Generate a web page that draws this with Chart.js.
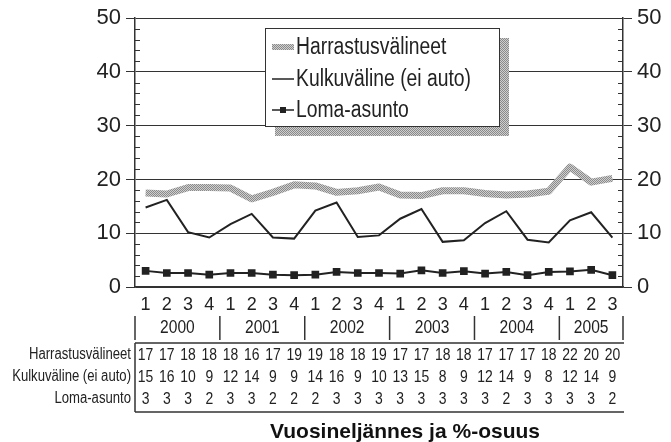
<!DOCTYPE html>
<html><head><meta charset="utf-8">
<script src="https://cdn.jsdelivr.net/npm/chart.js@4.4.0/dist/chart.umd.min.js"></script>
<style>html,body{margin:0;padding:0;background:#fff;}#wrap{width:671px;height:442px;}</style>
</head><body><div id="wrap"><canvas id="c" width="671" height="442"></canvas></div>
<script>
const quarters = ['1','2','3','4','1','2','3','4','1','2','3','4','1','2','3','4','1','2','3','4','1','2','3'];
const years = ['2000','2001','2002','2003','2004','2005'];
const yearSpans = [4,4,4,4,4,3];
const seriesNames = ['Harrastusvälineet','Kulkuväline (ei auto)','Loma-asunto'];
const harrastus = [17.5,17.3,18.5,18.5,18.4,16.4,17.6,19.0,18.8,17.6,17.9,18.6,17.1,17.0,17.9,17.9,17.4,17.1,17.3,17.8,22.3,19.5,20.2];
const kulku = [14.8,16.2,10.2,9.2,11.7,13.6,9.2,9.0,14.2,15.7,9.3,9.6,12.7,14.5,8.4,8.7,11.9,14.1,8.8,8.3,12.4,13.9,9.2];
const loma = [3.0,2.6,2.6,2.3,2.6,2.6,2.3,2.2,2.3,2.8,2.6,2.6,2.5,3.1,2.6,2.95,2.5,2.8,2.2,2.8,2.9,3.2,2.2];
const tableHarrastus = [17,17,18,18,18,16,17,19,19,18,18,19,17,17,18,18,17,17,17,18,22,20,20];
const tableKulku = [15,16,10,9,12,14,9,9,14,16,9,10,13,15,8,9,12,14,9,8,12,14,9];
const tableLoma = [3,3,3,2,3,3,2,2,2,3,3,3,3,3,3,3,3,2,3,3,3,3,2];
const yMin = 0, yMax = 50, yMajor = 10, yMinor = 2;
const xTitle = 'Vuosineljännes ja %-osuus';

const SANS = '"Liberation Sans", Arial, sans-serif';
const INK = '#222';

function hatch(){
  const c=document.createElement('canvas');c.width=2;c.height=2;
  const g=c.getContext('2d');
  g.fillStyle='#cfcfcf';g.fillRect(0,0,2,2);
  g.fillStyle='#8a8a8a';g.fillRect(0,0,1,1);g.fillRect(1,1,1,1);
  return g.createPattern(c,'repeat');
}
const HATCH = hatch();

const majorColor = ctx => (ctx.tick && ctx.tick.value % yMajor === 0) ? '#333' : 'rgba(0,0,0,0)';

// condensed text: draw with horizontal squeeze
function ntext(ctx,str,x,y,size,align,sx){
  sx=sx||0.82;
  ctx.save();
  ctx.font=size+'px '+SANS;
  ctx.textAlign=align;ctx.textBaseline='middle';
  ctx.translate(x,y);ctx.scale(sx,1);
  ctx.fillText(str,0,0);
  ctx.restore();
}

const extras = {
  id:'extras',
  afterDraw(chart){
    const ctx=chart.ctx, x=chart.scales.x, y=chart.scales.y, ca=chart.chartArea;
    const half=(x.getPixelForValue(1)-x.getPixelForValue(0))/2;
    ctx.save();
    // minor ticks inside plot
    ctx.strokeStyle='#333';ctx.lineWidth=1;
    for(let v=yMin;v<=yMax;v+=yMinor){
      if(v%yMajor===0)continue;
      const py=Math.round(y.getPixelForValue(v))+0.5;
      ctx.beginPath();ctx.moveTo(ca.left,py);ctx.lineTo(ca.left+5,py);
      ctx.moveTo(ca.right,py);ctx.lineTo(ca.right-5,py);ctx.stroke();
    }
    // legend
    const L={x:265,y:28,w:234,h:98};
    ctx.fillStyle=HATCH;ctx.fillRect(L.x+10,L.y+10,L.w,L.h);
    ctx.fillStyle='#fff';ctx.fillRect(L.x,L.y,L.w,L.h);
    ctx.strokeStyle='#333';ctx.lineWidth=1;ctx.strokeRect(L.x+0.5,L.y+0.5,L.w,L.h);
    const rows=[47,79,110];
    chart.data.datasets.forEach((ds,i)=>{
      const ry=rows[i];
      ctx.beginPath();ctx.moveTo(272,ry);ctx.lineTo(294,ry);
      ctx.strokeStyle=ds.borderColor;ctx.lineWidth=i===0?6:1.5;ctx.stroke();
      if(i===2){ctx.fillStyle=INK;ctx.fillRect(280,ry-3,6,6);}
      ctx.fillStyle=INK;ntext(ctx,ds.label,296,ry+1,23,'left',0.84);
    });
    // year row
    ctx.strokeStyle='#333';ctx.lineWidth=1.5;
    let idx=0;
    const bounds=[x.getPixelForValue(0)-half];
    yearSpans.forEach(s=>{idx+=s;bounds.push(x.getPixelForValue(idx-1)+half);});
    bounds.forEach(b=>{ctx.beginPath();ctx.moveTo(b,316);ctx.lineTo(b,340);ctx.stroke();});
    ctx.fillStyle=INK;
    years.forEach((yr,i)=>ntext(ctx,yr,(bounds[i]+bounds[i+1])/2,328,19,'center'));
    // table
    ctx.lineWidth=1.5;ctx.strokeStyle='#333';
    ctx.beginPath();ctx.moveTo(ca.left,343);ctx.lineTo(ca.right+1,343);
    ctx.moveTo(ca.left,343);ctx.lineTo(ca.left,412);
    ctx.moveTo(ca.left,412);ctx.lineTo(ca.right+1,412);ctx.stroke();
    const tRows=[[seriesNames[0],tableHarrastus,355],[seriesNames[1],tableKulku,377],[seriesNames[2],tableLoma,399]];
    tRows.forEach(([name,vals,ry])=>{
      ntext(ctx,name,ca.left-4,ry,16,'right');
      vals.forEach((v,i)=>ntext(ctx,String(v),x.getPixelForValue(i),ry,17,'center'));
    });
    // title
    ctx.font='bold 21px '+SANS;ctx.textAlign='center';ctx.textBaseline='middle';ctx.fillStyle='#111';
    ctx.fillText(xTitle,405,432);
    ctx.restore();
  }
};

new Chart(document.getElementById('c'),{
  type:'line',
  data:{labels:quarters,datasets:[
    {label:seriesNames[0],data:harrastus,borderColor:HATCH,borderWidth:7,pointRadius:0,tension:0,borderJoinStyle:'round'},
    {label:seriesNames[1],data:kulku,borderColor:INK,borderWidth:2,pointRadius:0,tension:0},
    {label:seriesNames[2],data:loma,borderColor:INK,borderWidth:2,pointStyle:'rect',pointRadius:4,pointBackgroundColor:INK,pointBorderColor:INK,tension:0}
  ]},
  options:{
    responsive:false,animation:false,devicePixelRatio:1,
    layout:{padding:{top:17,left:0,right:0,bottom:0}},
    plugins:{legend:{display:false},tooltip:{enabled:false},title:{display:false}},
    scales:{
      x:{type:'category',offset:true,
        grid:{display:true,color:'rgba(0,0,0,0)',drawTicks:false},
        border:{display:true,color:'#333',width:1.5},
        ticks:{font:{family:SANS,size:18},color:INK,padding:7,maxRotation:0,autoSkip:false},
        afterFit:s=>{s.height=155;}},
      y:{position:'left',min:yMin,max:yMax,
        ticks:{stepSize:yMinor,autoSkip:false,font:{family:SANS,size:22},color:INK,padding:5,
          callback:v=>v%yMajor===0?String(v):''},
        grid:{color:majorColor,tickColor:majorColor,tickLength:9,lineWidth:1},
        border:{display:true,color:'#333',width:1.5},
        afterFit:s=>{s.width=135;}},
      y2:{position:'right',min:yMin,max:yMax,
        ticks:{stepSize:yMinor,autoSkip:false,font:{family:SANS,size:22},color:INK,padding:5,
          callback:v=>v%yMajor===0?String(v):''},
        grid:{drawOnChartArea:false,tickColor:majorColor,tickLength:9,lineWidth:1},
        border:{display:true,color:'#333',width:1.5},
        afterFit:s=>{s.width=48;}}
    }
  },
  plugins:[extras]
});
</script></body></html>
